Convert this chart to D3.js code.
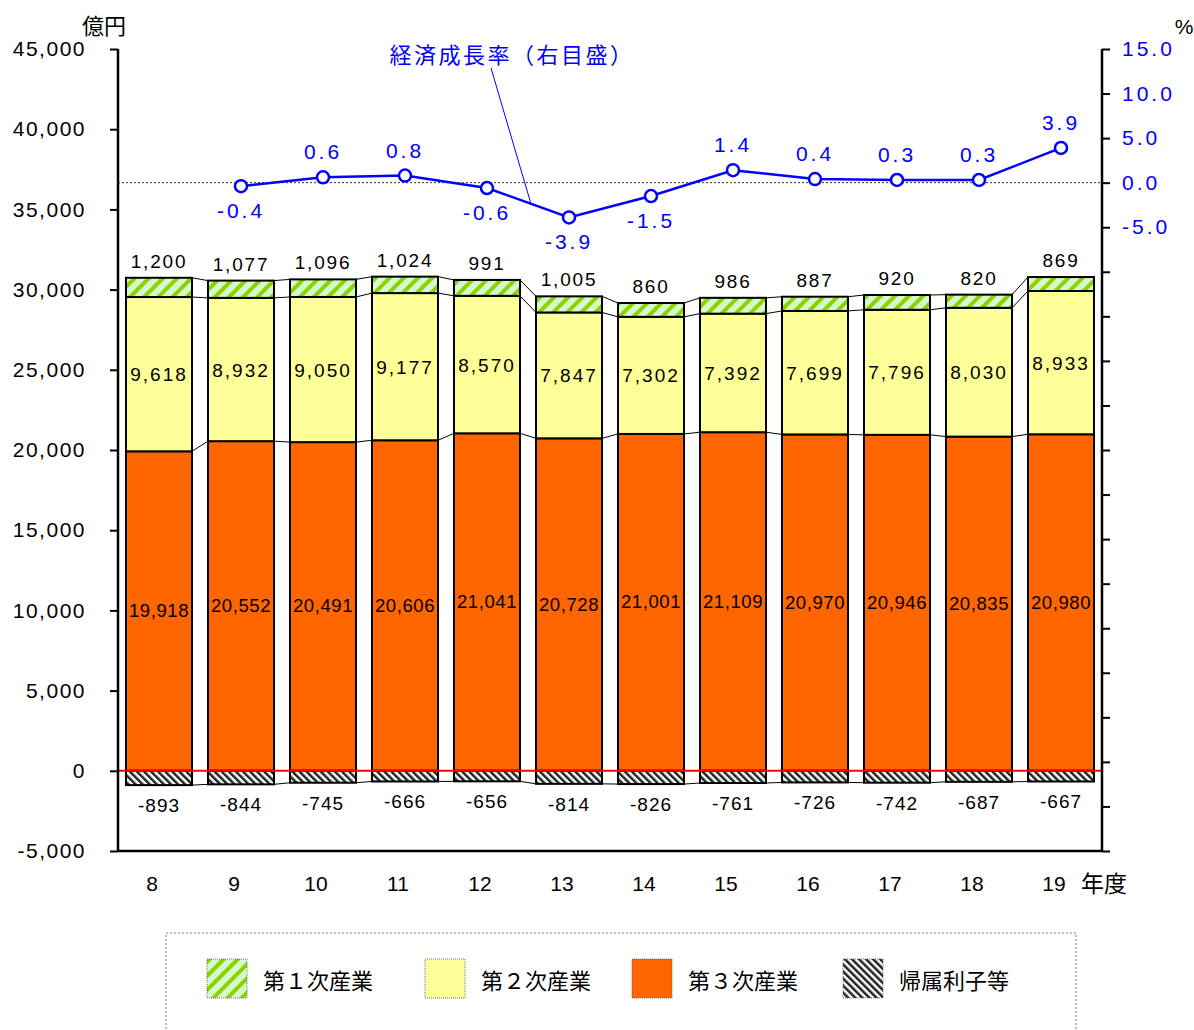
<!DOCTYPE html>
<html>
<head>
<meta charset="utf-8">
<script src="https://cdn.jsdelivr.net/npm/d3@7"></script>
<style>
  body { margin: 0; background: #fff; }
  text { font-family: "Liberation Sans", Arial, sans-serif; }
  .jp { font-family: "Noto Sans CJK JP", sans-serif; }
</style>
</head>
<body>
<div id="app"></div>
<script>
// Fiscal years (Heisei)
const years = ["8", "9", "10", "11", "12", "13", "14", "15", "16", "17", "18", "19"];

// Values in 100 million yen
const primary = [1200, 1077, 1096, 1024, 991, 1005, 860, 986, 887, 920, 820, 869];
const secondary = [9618, 8932, 9050, 9177, 8570, 7847, 7302, 7392, 7699, 7796, 8030, 8933];
const tertiary = [19918, 20552, 20491, 20606, 21041, 20728, 21001, 21109, 20970, 20946, 20835, 20980];
const imputed = [-893, -844, -745, -666, -656, -814, -826, -761, -726, -742, -687, -667];

// Economic growth rate (%), no value for year 8
const growth = [null, -0.4, 0.6, 0.8, -0.6, -3.9, -1.5, 1.4, 0.4, 0.3, 0.3, 3.9];

const leftTicks = d3.range(-5000, 45001, 5000);
const rightTicks = d3.range(-75, 15.1, 5);
const rightLabels = [15, 10, 5, 0, -5];

const legendItems = [
  { key: "p1", label: "第１次産業" },
  { key: "p2", label: "第２次産業" },
  { key: "p3", label: "第３次産業" },
  { key: "imp", label: "帰属利子等" }
];

const W = 1194, H = 1030;
const mLeft = 118, mRight = 1102, mTop = 49, mBottom = 851;

// plain hyphen for negatives, like the original
const locale = d3.formatLocale({ decimal: ".", thousands: ",", grouping: [3], currency: ["", ""], minus: "-" });
const fmt = locale.format(",");
const fmt1 = locale.format(".1f");

const svg = d3.select("#app").append("svg")
  .attr("width", W).attr("height", H)
  .attr("viewBox", [0, 0, W, H]);

// Patterns
const defs = svg.append("defs");
const pg = defs.append("pattern").attr("id", "hatchGreen")
  .attr("patternUnits", "userSpaceOnUse").attr("width", 10).attr("height", 10)
  .attr("patternTransform", "rotate(45)");
pg.append("rect").attr("width", 10).attr("height", 10).attr("fill", "#ccffcc");
pg.append("rect").attr("width", 4).attr("height", 10).attr("fill", "#99cc00");

const pb = defs.append("pattern").attr("id", "hatchBlack")
  .attr("patternUnits", "userSpaceOnUse").attr("width", 5).attr("height", 5)
  .attr("patternTransform", "rotate(-45)");
pb.append("rect").attr("width", 5).attr("height", 5).attr("fill", "#fff");
pb.append("rect").attr("width", 2.5).attr("height", 5).attr("fill", "#222");

const fills = { p1: "url(#hatchGreen)", p2: "#ffff99", p3: "#ff6600", imp: "url(#hatchBlack)" };

// Scales
const x = d3.scaleBand().domain(years).range([mLeft, mRight]).paddingInner(0.195).paddingOuter(0.0975);
const y = d3.scaleLinear().domain([-5000, 45000]).range([mBottom, mTop]);
const yr = d3.scaleLinear().domain([-75, 15]).range([mBottom, mTop]);

// Stack data
const rows = years.map((yy, i) => ({
  year: yy,
  p3: [0, tertiary[i]],
  p2: [tertiary[i], tertiary[i] + secondary[i]],
  p1: [tertiary[i] + secondary[i], tertiary[i] + secondary[i] + primary[i]],
  imp: [imputed[i], 0]
}));

// Series lines between bars
const lineKeys = [["p3", 1], ["p2", 1], ["p1", 1], ["imp", 0]];
const conn = svg.append("g").attr("stroke", "#000").attr("stroke-width", 1);
lineKeys.forEach(([k, j]) => {
  for (let i = 0; i < rows.length - 1; i++) {
    conn.append("line")
      .attr("x1", x(rows[i].year) + x.bandwidth())
      .attr("x2", x(rows[i + 1].year))
      .attr("y1", y(rows[i][k][j]))
      .attr("y2", y(rows[i + 1][k][j]));
  }
});

// Bars
["p3", "p2", "p1", "imp"].forEach((k) => {
  svg.append("g").selectAll("rect")
    .data(rows)
    .join("rect")
    .attr("x", (d) => x(d.year))
    .attr("width", x.bandwidth())
    .attr("y", (d) => y(d[k][1]))
    .attr("height", (d) => y(d[k][0]) - y(d[k][1]))
    .attr("fill", fills[k])
    .attr("stroke", "#000")
    .attr("stroke-width", 2);
});

// Zero line (red)
svg.append("line")
  .attr("x1", mLeft).attr("x2", mRight)
  .attr("y1", y(0)).attr("y2", y(0))
  .attr("stroke", "#ff0000").attr("stroke-width", 2);

// 0% dotted line
svg.append("line")
  .attr("x1", mLeft).attr("x2", mRight)
  .attr("y1", yr(0)).attr("y2", yr(0))
  .attr("stroke", "#000").attr("stroke-width", 0.8)
  .attr("stroke-dasharray", "2,2");

// Left axis
const yAxis = svg.append("g")
  .attr("transform", `translate(${mLeft},0)`)
  .call(d3.axisLeft(y).tickValues(leftTicks).tickSize(8).tickPadding(24).tickFormat(fmt));
yAxis.select(".domain").attr("stroke-width", 2.5).attr("d", `M0,${mTop}V${mBottom}`);
yAxis.selectAll(".tick line").attr("stroke-width", 2);
yAxis.selectAll(".tick text")
  .attr("font-size", 21).attr("fill", "#000")
  .attr("letter-spacing", 1.5)
  .attr("font-family", "'Liberation Sans', Arial, sans-serif");

// Right axis
const yAxisR = svg.append("g")
  .attr("transform", `translate(${mRight},0)`)
  .call(d3.axisRight(yr).tickValues(rightTicks).tickSize(8).tickPadding(12)
    .tickFormat((d) => rightLabels.includes(d) ? fmt1(d) : ""));
yAxisR.select(".domain").attr("stroke-width", 2.5).attr("d", `M0,${mTop}V${mBottom}`);
yAxisR.selectAll(".tick line").attr("stroke-width", 2);
yAxisR.selectAll(".tick text")
  .attr("font-size", 21).attr("fill", "#0000ff")
  .attr("letter-spacing", 3)
  .attr("font-family", "'Liberation Sans', Arial, sans-serif");

// Bottom axis
const xAxis = svg.append("g")
  .attr("transform", `translate(0,${mBottom})`)
  .call(d3.axisBottom(x).tickSize(0).tickPadding(25));
xAxis.select(".domain").attr("stroke-width", 2.5).attr("d", `M${mLeft},0H${mRight}`);
xAxis.selectAll(".tick text")
  .attr("font-size", 21).attr("fill", "#000")
  .attr("dx", -7)
  .attr("font-family", "'Liberation Sans', Arial, sans-serif");

// Axis unit labels
svg.append("text").attr("class", "jp").attr("x", 104).attr("y", 34)
  .attr("text-anchor", "middle").attr("font-size", 22).text("億円");
svg.append("text").attr("x", 1184).attr("y", 34)
  .attr("text-anchor", "middle").attr("font-size", 21).text("%");
svg.append("text").attr("class", "jp").attr("x", 1104).attr("y", 892)
  .attr("text-anchor", "middle").attr("font-size", 23).text("年度");

// Data labels
const cx = (d) => x(d.year) + x.bandwidth() / 2;
const labels = svg.append("g").attr("text-anchor", "middle").attr("fill", "#000");
labels.selectAll(".lp1").data(rows).join("text")
  .attr("x", cx).attr("y", (d) => y(d.p1[1]) - 10)
  .attr("font-size", 19).attr("letter-spacing", 1.8)
  .text((d) => fmt(d.p1[1] - d.p1[0]));
labels.selectAll(".lp2").data(rows).join("text")
  .attr("x", cx).attr("y", (d) => (y(d.p2[0]) + y(d.p2[1])) / 2 + 7)
  .attr("font-size", 19).attr("letter-spacing", 2)
  .text((d) => fmt(d.p2[1] - d.p2[0]));
labels.selectAll(".lp3").data(rows).join("text")
  .attr("x", cx).attr("y", (d) => (y(d.p3[0]) + y(d.p3[1])) / 2 + 6)
  .attr("font-size", 18.5).attr("letter-spacing", 0.6)
  .text((d) => fmt(d.p3[1] - d.p3[0]));
labels.selectAll(".limp").data(rows).join("text")
  .attr("x", cx).attr("y", (d) => y(d.imp[0]) + 27)
  .attr("font-size", 19).attr("letter-spacing", 1)
  .text((d) => fmt(d.imp[0]));

// Growth line
const gpts = years.map((yy, i) => ({ year: yy, v: growth[i] })).filter((d) => d.v !== null);
svg.append("path")
  .datum(gpts)
  .attr("fill", "none").attr("stroke", "#0000ff").attr("stroke-width", 2.5)
  .attr("d", d3.line().x(cx).y((d) => yr(d.v)));
svg.append("g").selectAll("circle").data(gpts).join("circle")
  .attr("cx", cx).attr("cy", (d) => yr(d.v)).attr("r", 6)
  .attr("fill", "#fff").attr("stroke", "#0000ff").attr("stroke-width", 2.5);
svg.append("g").selectAll("text").data(gpts).join("text")
  .attr("x", cx)
  .attr("y", (d) => d.v >= 0 ? yr(d.v) - 18 : yr(d.v) + 32)
  .attr("text-anchor", "middle").attr("font-size", 21).attr("fill", "#0000ff")
  .attr("letter-spacing", 3)
  .text((d) => fmt1(d.v));

// Growth rate callout
svg.append("text").attr("class", "jp").attr("x", 512).attr("y", 63)
  .attr("text-anchor", "middle").attr("font-size", 22).attr("fill", "#0000ff")
  .attr("letter-spacing", 2.5)
  .text("経済成長率（右目盛）");
svg.append("line")
  .attr("x1", 491).attr("y1", 68).attr("x2", 531).attr("y2", 204)
  .attr("stroke", "#0000ff").attr("stroke-width", 1);

// Legend
svg.append("rect")
  .attr("x", 166).attr("y", 933).attr("width", 910).attr("height", 120)
  .attr("fill", "none").attr("stroke", "#777").attr("stroke-width", 1)
  .attr("stroke-dasharray", "2,2");
const legendX = [207, 425, 632, 843];
const lg = svg.append("g").selectAll("g").data(legendItems).join("g")
  .attr("transform", (d, i) => `translate(${legendX[i]},959)`);
lg.append("rect").attr("width", 40).attr("height", 39)
  .attr("fill", (d) => fills[d.key])
  .attr("stroke", "#555").attr("stroke-width", 0.8).attr("stroke-dasharray", "1,1");
lg.append("text").attr("class", "jp")
  .attr("x", 56).attr("y", 30)
  .attr("font-size", 22).attr("fill", "#000")
  .text((d) => d.label);
</script>
</body>
</html>
